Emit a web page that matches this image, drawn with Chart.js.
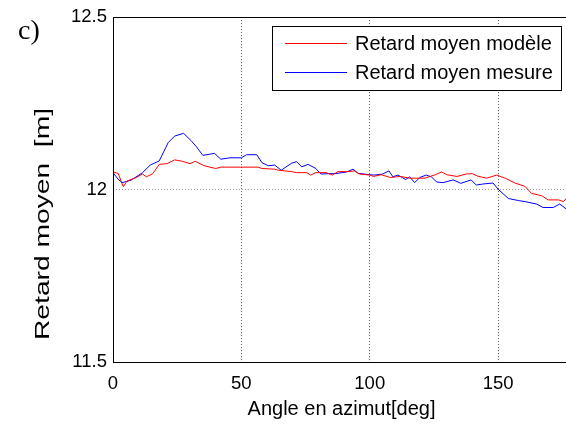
<!DOCTYPE html>
<html>
<head>
<meta charset="utf-8">
<script src="https://cdn.jsdelivr.net/npm/chart.js@4.4.1/dist/chart.umd.min.js"></script>
<style>
  html, body { margin: 0; padding: 0; background: #fff; overflow: hidden; width: 566px; height: 425px; }
  #wrap { position: absolute; left: 0; top: 0; width: 570px; height: 425px; }
</style>
</head>
<body>
<div id="wrap"><canvas id="retardChart"></canvas></div>
<script>
// Data
const angleModele = [0, 2, 4, 5.5, 8.5, 11.5, 13, 15.5, 18, 21, 24, 27, 30, 32, 35.5, 40, 42, 50, 56.5, 58, 63, 64.5, 69.5, 71.5, 75.5, 77, 79, 83, 85.5, 87.5, 91.5, 94, 96, 100, 101.5, 104.5, 108, 112, 115.5, 121.5, 125.5, 128, 130, 134, 137.5, 140, 142, 145.5, 149.5, 153, 156.5, 160.5, 163, 167, 169.5, 173.5, 175.5, 177];
const retardModele = [12.051, 12.047, 12.008, 12.025, 12.033, 12.045, 12.037, 12.046, 12.073, 12.075, 12.086, 12.082, 12.075, 12.082, 12.069, 12.061, 12.065, 12.065, 12.065, 12.061, 12.059, 12.056, 12.052, 12.049, 12.049, 12.042, 12.049, 12.049, 12.042, 12.052, 12.052, 12.054, 12.045, 12.042, 12.038, 12.043, 12.035, 12.038, 12.033, 12.033, 12.043, 12.051, 12.043, 12.038, 12.045, 12.046, 12.039, 12.033, 12.042, 12.032, 12.019, 12.009, 11.989, 11.982, 11.970, 11.970, 11.965, 11.978];

const angleMesure = [0, 2, 3.5, 7, 11.5, 14.5, 18, 21.5, 24, 27.5, 30.5, 32.5, 35, 39.5, 42, 45.5, 50, 52, 56, 58, 60.5, 63, 65.5, 69.5, 71.5, 73.5, 76, 79, 81, 84, 86.5, 91, 93.5, 95.5, 100, 102, 105, 107.5, 109, 111, 114, 115.5, 117.5, 119.5, 122, 124, 126, 128.5, 132.5, 135.5, 139.5, 141.5, 144, 148, 150, 154, 158, 160.5, 165, 167.5, 171.5, 174, 177];
const retardMesure = [12.049, 12.030, 12.020, 12.027, 12.049, 12.071, 12.083, 12.136, 12.155, 12.163, 12.141, 12.124, 12.099, 12.105, 12.088, 12.092, 12.092, 12.101, 12.101, 12.078, 12.069, 12.071, 12.056, 12.076, 12.081, 12.066, 12.073, 12.061, 12.045, 12.046, 12.046, 12.051, 12.059, 12.047, 12.043, 12.042, 12.045, 12.054, 12.037, 12.042, 12.029, 12.037, 12.020, 12.035, 12.042, 12.037, 12.022, 12.020, 12.028, 12.018, 12.028, 12.013, 12.016, 12.019, 12.001, 11.974, 11.968, 11.965, 11.958, 11.948, 11.948, 11.958, 11.941];

const xTicks = [0, 50, 100, 150];
const yTicks = [11.5, 12, 12.5];
const seriesNames = ['Retard moyen modèle', 'Retard moyen mesure'];
const seriesColors = ['#ff0000', '#0000ff'];

const toPoints = (xs, ys) => xs.map((x, i) => ({ x: x, y: ys[i] }));

const sansFont = '"Liberation Sans", Arial, sans-serif';

// Boxed legend, panel letter, y title and axes frame (MATLAB look)
const matlabDecor = {
  id: 'matlabDecor',
  afterDraw(chart) {
    const ctx = chart.ctx;
    const a = chart.chartArea;
    ctx.save();

    // frame
    ctx.strokeStyle = '#000';
    ctx.lineWidth = 1;
    ctx.strokeRect(Math.round(a.left) + 0.5, Math.round(a.top) + 0.5, Math.round(a.right - a.left), Math.round(a.bottom - a.top));

    // legend box
    ctx.fillStyle = '#fff';
    ctx.fillRect(272, 26, 300, 64);
    ctx.strokeRect(272.5, 26.5, 289, 64);
    ctx.font = '20px ' + sansFont;
    ctx.textBaseline = 'middle';
    ctx.textAlign = 'left';
    const rows = [43, 72];
    seriesNames.forEach((name, i) => {
      ctx.strokeStyle = seriesColors[i];
      ctx.beginPath();
      ctx.moveTo(285, rows[i] + 0.5);
      ctx.lineTo(347, rows[i] + 0.5);
      ctx.stroke();
      ctx.fillStyle = '#000';
      ctx.fillText(name, 355, rows[i] + 1);
    });

    // y axis title, stretched along its length like in the figure (y 340 -> 108)
    const yTitle = 'Retard moyen  [m]';
    ctx.save();
    ctx.font = '20px ' + sansFont;
    const stretch = 232 / ctx.measureText(yTitle).width;
    ctx.translate(43, 340);
    ctx.rotate(-Math.PI / 2);
    ctx.scale(stretch, 1);
    ctx.fillStyle = '#000';
    ctx.textBaseline = 'middle';
    ctx.textAlign = 'left';
    ctx.fillText(yTitle, 0, 0);
    ctx.restore();

    // panel letter
    ctx.fillStyle = '#000';
    ctx.font = '28px "Liberation Serif", "DejaVu Serif", serif';
    ctx.textAlign = 'left';
    ctx.textBaseline = 'alphabetic';
    ctx.fillText('c)', 18, 39);

    ctx.restore();
  }
};

new Chart(document.getElementById('retardChart'), {
  type: 'line',
  data: {
    datasets: [
      {
        label: seriesNames[0],
        data: toPoints(angleModele, retardModele),
        borderColor: seriesColors[0],
        borderWidth: 1,
        pointRadius: 0,
        tension: 0
      },
      {
        label: seriesNames[1],
        data: toPoints(angleMesure, retardMesure),
        borderColor: seriesColors[1],
        borderWidth: 1,
        pointRadius: 0,
        tension: 0
      }
    ]
  },
  options: {
    responsive: true,
    maintainAspectRatio: false,
    animation: false,
    layout: { padding: { top: 15, left: 0, right: 0, bottom: 0 } },
    plugins: {
      legend: { display: false },
      tooltip: { enabled: false }
    },
    scales: {
      x: {
        type: 'linear',
        min: 0,
        max: 178,
        afterBuildTicks: s => { s.ticks = xTicks.map(v => ({ value: v })); },
        afterFit: s => { s.height = 63; },
        ticks: {
          includeBounds: false,
          padding: 11,
          color: '#000',
          font: { family: sansFont, size: 18.5 }
        },
        grid: {
          drawTicks: false,
          color: ctx => (ctx.tick && ctx.tick.value > 0 ? '#555' : 'rgba(0,0,0,0)'),
          lineWidth: 1
        },
        border: { display: false, dash: [1, 2] },
        title: {
          display: true,
          text: 'Angle en azimut[deg]',
          color: '#000',
          font: { family: sansFont, size: 20 },
          padding: { top: 4, bottom: 4 }
        }
      },
      y: {
        min: 11.5,
        max: 12.5,
        afterBuildTicks: s => { s.ticks = yTicks.map(v => ({ value: v })); },
        afterFit: s => { s.width = 113; },
        ticks: {
          padding: 6,
          color: '#000',
          font: { family: sansFont, size: 18.5 },
          callback: v => String(v)
        },
        grid: {
          drawTicks: false,
          color: ctx => (ctx.tick && ctx.tick.value === 12 ? '#999' : 'rgba(0,0,0,0)'),
          lineWidth: 1
        },
        border: { display: false, dash: [1, 2] }
      }
    }
  },
  plugins: [matlabDecor]
});
</script>
</body>
</html>
